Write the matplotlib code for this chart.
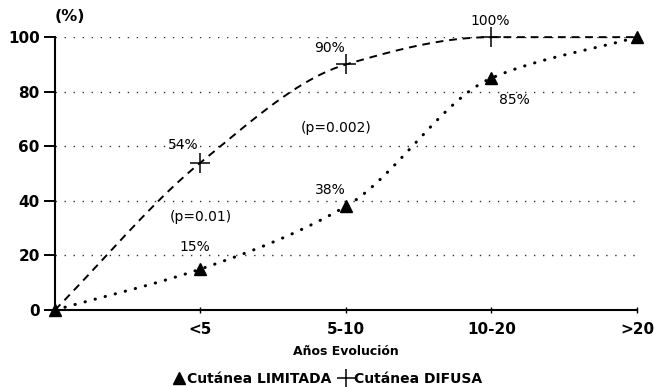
import numpy as np
import matplotlib
matplotlib.use("Agg")
import matplotlib.pyplot as plt
from matplotlib.lines import Line2D

plt.rcParams['font.family'] = ['DejaVu Sans']

# data
grupos = ["", "<5", "5-10", "10-20", ">20"]
difusa = [0, 54, 90, 100, 100]
limitada = [0, 15, 38, 85, 100]
etiq_difusa = ["", "54%", "90%", "100%", ""]
etiq_limitada = ["", "15%", "38%", "85%", ""]

def suave(y, n=40):
    # monotone cubic (pchip) just to draw the smooth curve through the points
    x = np.arange(len(y), dtype=float)
    y = np.asarray(y, dtype=float)
    d = np.diff(y)
    m = np.zeros_like(y)
    for i in range(1, len(y) - 1):
        if d[i-1] * d[i] > 0:
            m[i] = 2 / (1/d[i-1] + 1/d[i])
    m[0] = d[0]; m[-1] = d[-1]
    xs = []; ys = []
    for i in range(len(y) - 1):
        t = np.linspace(0, 1, n)
        h00 = 2*t**3 - 3*t**2 + 1; h10 = t**3 - 2*t**2 + t
        h01 = -2*t**3 + 3*t**2; h11 = t**3 - t**2
        xs.append(x[i] + t)
        ys.append(h00*y[i] + h10*m[i] + h01*y[i+1] + h11*m[i+1])
    return np.concatenate(xs), np.concatenate(ys)

fig = plt.figure(figsize=(6.54, 3.87), dpi=100)
ax = fig.add_axes([0.084, 0.199, 0.89, 0.705])

for g in [20, 40, 60, 80, 100]:
    ax.plot([0, 4], [g, g], color='#333333', lw=1, linestyle=(0, (1, 5.5)), zorder=1)

x = np.arange(len(grupos))
xd, yd = suave(difusa)
ax.plot(xd, yd, color='black', lw=1.4, linestyle=(0, (4, 3)), clip_on=False, zorder=2)
xl, yl = suave(limitada)
ax.plot(xl, yl, color='black', lw=2.2, linestyle=(0, (0.1, 3.3)),
        dash_capstyle='round', clip_on=False, zorder=2)

ax.plot(x[1:-1], difusa[1:-1], linestyle='none', marker='+', ms=14, mew=1.1,
        color='black', clip_on=False, zorder=3)
ax.plot(x, limitada, linestyle='none', marker='^', ms=8.5,
        color='black', clip_on=False, zorder=3)

# percentage labels
fs = 10
ax.text(0.88, 60.5, etiq_difusa[1], fontsize=fs, ha='center', va='center')
ax.text(1.89, 96, etiq_difusa[2], fontsize=fs, ha='center', va='center')
ax.text(2.99, 106, etiq_difusa[3], fontsize=fs, ha='center', va='center')
ax.text(0.96, 23, etiq_limitada[1], fontsize=fs, ha='center', va='center')
ax.text(1.89, 44, etiq_limitada[2], fontsize=fs, ha='center', va='center')
ax.text(3.16, 77, etiq_limitada[3], fontsize=fs, ha='center', va='center')
ax.text(1.0, 34, "(p=0.01)", fontsize=fs, ha='center', va='center')
ax.text(1.93, 66.7, "(p=0.002)", fontsize=fs, ha='center', va='center')
ax.text(0.0, 107.5, "(%)", fontsize=11.5, fontweight='bold', ha='left', va='center')

ax.set_xlim(0, 4)
ax.set_ylim(0, 100)
ax.set_xticks(x[1:])
ax.set_xticklabels(grupos[1:], fontsize=11, fontweight='bold')
ax.set_yticks([0, 20, 40, 60, 80, 100])
ax.set_yticklabels(["0", "20", "40", "60", "80", "100"], fontsize=11, fontweight='bold')
ax.tick_params(axis='y', length=8, width=1.4, direction='out', pad=3)
ax.tick_params(axis='x', length=5, width=1, direction='inout', pad=6)
for s in ['top', 'right']:
    ax.spines[s].set_visible(False)
ax.spines['left'].set_linewidth(1.5)
ax.spines['bottom'].set_linewidth(1.5)
ax.set_xlabel("Años Evolución", fontsize=9, fontweight='bold', labelpad=6)

handles = [Line2D([], [], linestyle='none', marker='^', ms=8, color='black'),
           Line2D([], [], linestyle='none', marker='+', ms=13, mew=1.1, color='black')]
fig.legend(handles, ["Cutánea LIMITADA", "Cutánea DIFUSA"], loc='lower center',
           bbox_to_anchor=(0.5, -0.03), ncol=2, frameon=False, handletextpad=0.1,
           columnspacing=0.5, handlelength=1.0, prop={'weight': 'bold', 'size': 10})

fig.savefig("out.png", dpi=100)
